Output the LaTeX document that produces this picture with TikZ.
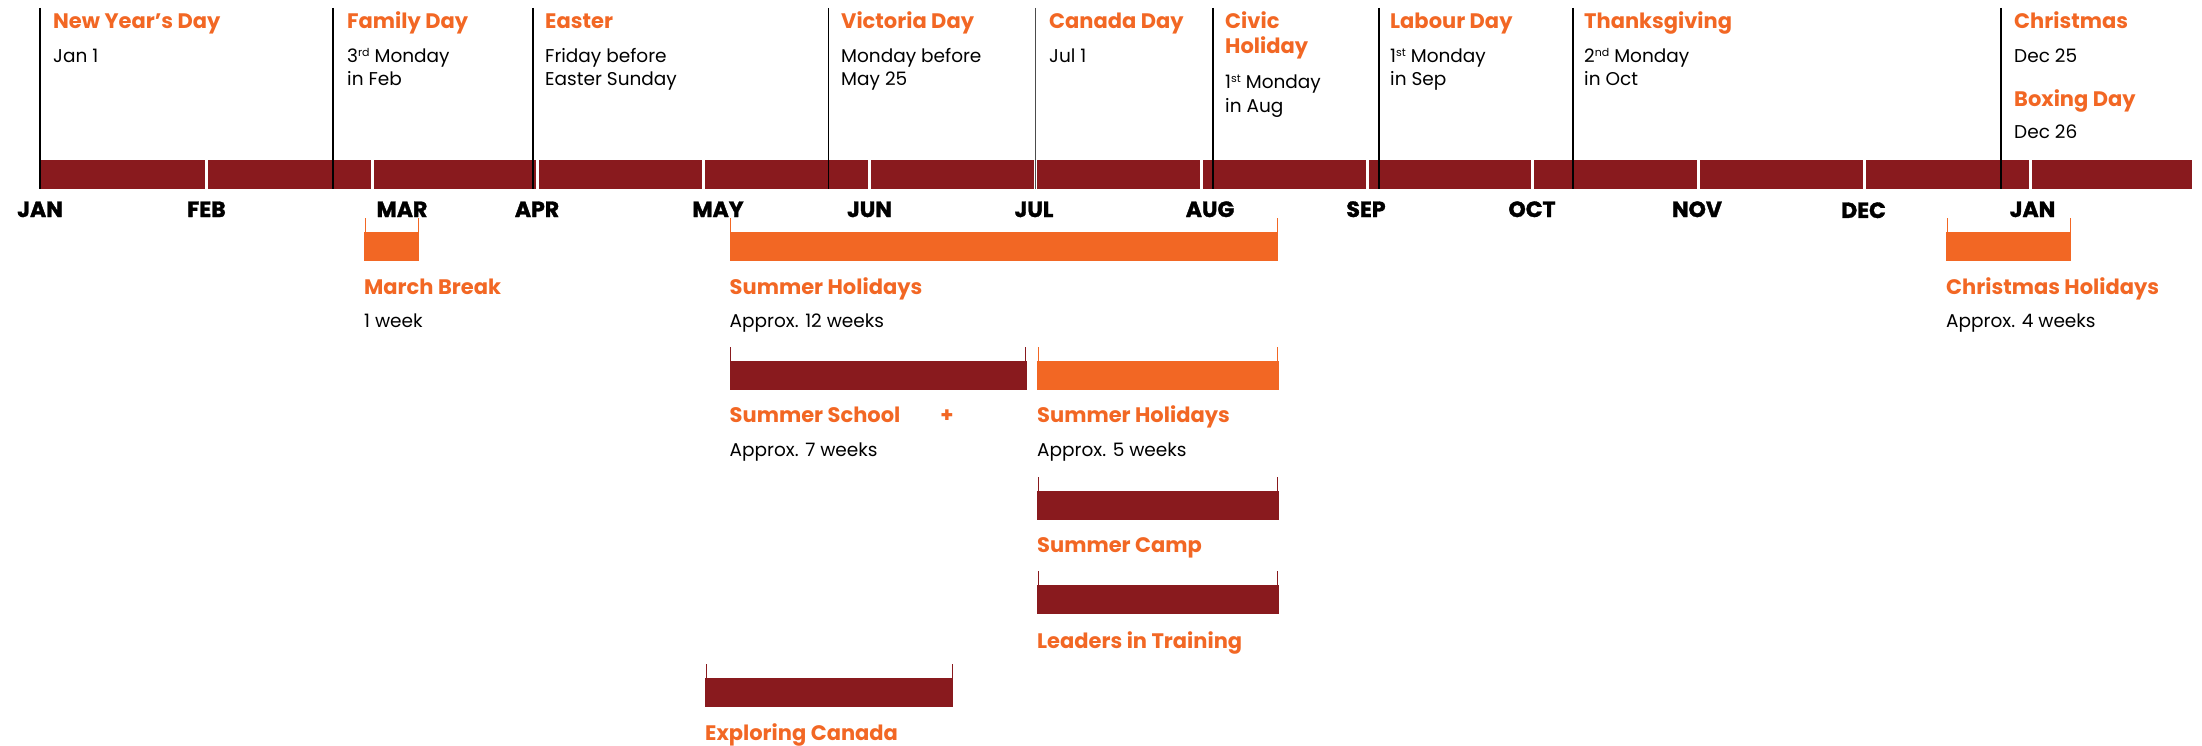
\documentclass[tikz,border=0pt]{standalone}
\usepackage{fontspec}
\setmainfont{Poppins}
\newfontfamily\monthfont{Poppins}[BoldFeatures={FakeBold=1.5}]
\usetikzlibrary{calc}
\definecolor{holred}{RGB}{137,26,30}
\definecolor{holorange}{RGB}{242,103,36}
\def\termbar[#1](#2:#3:#4){\draw[#1, line width=1pt] (#2+1,#4-14) -- (#2+1,#4) (#3-1,#4-14) -- (#3-1,#4); \fill[#1] (#2,#4) rectangle (#3,#4+29);}
\def\sups#1{\raisebox{0.6ex}{\fontsize{11}{11}\selectfont #1}}

\begin{document}
\begin{tikzpicture}[x=1pt, y=-1pt,
	hday/.style={anchor=base west, inner sep=0pt, text=holorange, font=\bfseries\fontsize{21}{21}\selectfont},
	hdate/.style={anchor=base west, inner sep=0pt, font=\fontsize{18.5}{18.5}\selectfont},
	month/.style={anchor=base, inner sep=0pt, font=\monthfont\bfseries\fontsize{22}{22}\selectfont},
	marker/.style={line width=1.3pt, black}]
			%%%%% START %%%%%
			\useasboundingbox (0,0) rectangle (2202,746);
			
			% year bar
			\fill[holred] (40,160) rectangle (205,189);
			\fill[holred] (208,160) rectangle (371,189);
			\fill[holred] (374,160) rectangle (536,189);
			\fill[holred] (539,160) rectangle (702,189);
			\fill[holred] (705,160) rectangle (868,189);
			\fill[holred] (871,160) rectangle (1034,189);
			\fill[holred] (1037,160) rectangle (1200,189);
			\fill[holred] (1203,160) rectangle (1366,189);
			\fill[holred] (1369,160) rectangle (1531,189);
			\fill[holred] (1534,160) rectangle (1697,189);
			\fill[holred] (1700,160) rectangle (1863,189);
			\fill[holred] (1866,160) rectangle (2029,189);
			\fill[holred] (2032,160) rectangle (2192,189);
			
			\node[month] (jan) at (40,217) {JAN};
			\node[month] (feb) at (206.5,217) {FEB};
			\node[month] (mar) at (402,217) {MAR};
			\node[month] (apr) at (537,217) {APR};
			\node[month] (may) at (718,217) {MAY};
			\node[month] (jun) at (869.5,217) {JUN};
			\node[month] (jul) at (1034,217) {JUL};
			\node[month] (aug) at (1210,217) {AUG};
			\node[month] (sep) at (1366,217) {SEP};
			\node[month] (oct) at (1532,217) {OCT};
			\node[month] (nov) at (1697,217) {NOV};
			\node[month] (dec) at (1863.5,218) {DEC};
			\node[month] (jan2) at (2032.5,217) {JAN};
			
			% holidays
			\draw[marker] (40,8) -- (40,189);
			\node[hday] (newyear) at (53,29) {New Year’s Day};
			\node[hdate] (newyear-d) at (53,63) {Jan 1};
			
			\draw[marker] (333,8) -- (333,189);
			\node[hday] (family) at (347,29) {Family Day};
			\node[hdate] (family-d1) at (347,63) {3\sups{rd} Monday};
			\node[hdate] (family-d2) at (347,86) {in Feb};
			
			\draw[marker] (533,8) -- (533,189);
			\node[hday] (easter) at (545,29) {Easter};
			\node[hdate] (easter-d1) at (545,63) {Friday before};
			\node[hdate] (easter-d2) at (545,86) {Easter Sunday};
			
			\draw[marker] (828.5,8) -- (828.5,189);
			\node[hday] (victoria) at (841,29) {Victoria Day};
			\node[hdate] (victoria-d1) at (841,63) {Monday before};
			\node[hdate] (victoria-d2) at (841,86) {May 25};
			
			\draw[marker, black!70] (1035.5,8) -- (1035.5,189);
			\node[hday] (canada) at (1049,29) {Canada Day};
			\node[hdate] (canada-d) at (1049,63) {Jul 1};
			
			\draw[marker] (1213,8) -- (1213,189);
			\node[hday] (civic1) at (1225,29) {Civic};
			\node[hday] (civic2) at (1225,54) {Holiday};
			\node[hdate] (civic-d1) at (1225,89) {1\sups{st} Monday};
			\node[hdate] (civic-d2) at (1225,113) {in Aug};
			
			\draw[marker] (1379,8) -- (1379,189);
			\node[hday] (labour) at (1390,29) {Labour Day};
			\node[hdate] (labour-d1) at (1390,63) {1\sups{st} Monday};
			\node[hdate] (labour-d2) at (1390,86) {in Sep};
			
			\draw[marker] (1573,8) -- (1573,189);
			\node[hday] (thanks) at (1584,29) {Thanksgiving};
			\node[hdate] (thanks-d1) at (1584,63) {2\sups{nd} Monday};
			\node[hdate] (thanks-d2) at (1584,86) {in Oct};
			
			\draw[marker] (2001,8) -- (2001,189);
			\node[hday] (xmas) at (2014,29) {Christmas};
			\node[hdate] (xmas-d) at (2014,63) {Dec 25};
			\node[hday] (boxing) at (2014,107) {Boxing Day};
			\node[hdate] (boxing-d) at (2014,139) {Dec 26};
			
			% school breaks
			\termbar[holorange](364:419:232);
			\node[hday] (march) at (364,294) {March Break};
			\node[hdate] (march-d) at (364,327) {1 week};
			
			\termbar[holorange](729.5:1278:232);
			\node[hday] (summer) at (729.5,294) {Summer Holidays};
			\node[hdate] (summer-d) at (729.5,327) {Approx. 12 weeks};
			
			\termbar[holorange](1946:2071:232);
			\node[hday] (winter) at (1946,294) {Christmas Holidays};
			\node[hdate] (winter-d) at (1946,327) {Approx. 4 weeks};
			
			% summer programs
			\termbar[holred](729.5:1026.5:361);
			\node[hday] (school) at (729.5,422) {Summer School};
			\node[hday, anchor=base] (plus) at (947,422) {+};
			\node[hdate] (school-d) at (729.5,456.5) {Approx. 7 weeks};
			
			\termbar[holorange](1037:1278.5:361);
			\node[hday] (summer2) at (1037,422) {Summer Holidays};
			\node[hdate] (summer2-d) at (1037,456.5) {Approx. 5 weeks};
			
			\termbar[holred](1037:1278.5:491);
			\node[hday] (camp) at (1037,552) {Summer Camp};
			
			\termbar[holred](1037:1278.5:585);
			\node[hday] (lit) at (1037,648) {Leaders in Training};
			
			\termbar[holred](705:953:678);
			\node[hday] (explore) at (705,740) {Exploring Canada};
			
			%%%%% END %%%%%
\end{tikzpicture}
\end{document}
